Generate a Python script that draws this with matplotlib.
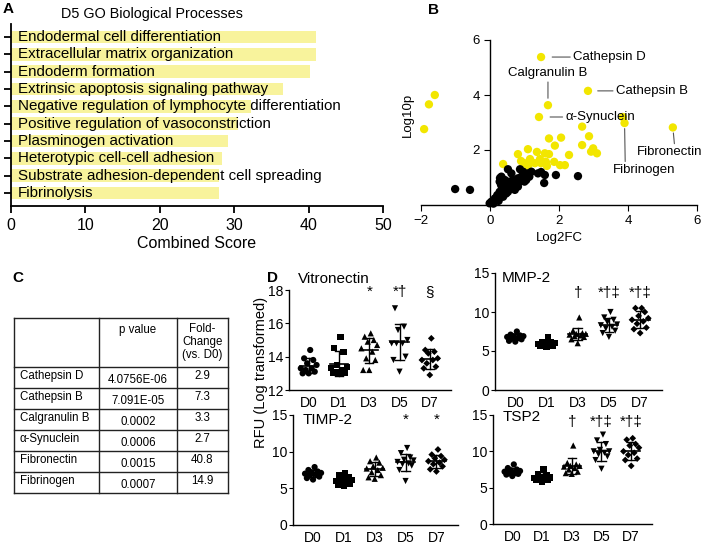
import numpy as np
import matplotlib.pyplot as plt

plt.rcParams['font.family'] = ['Liberation Sans', 'DejaVu Sans']

W, H = 709, 545


def px_rect(left, top, right, bottom):
    # axes rectangle from pixel edges of the reference
    return [left / W, 1 - bottom / H, (right - left) / W, (bottom - top) / H]


# ---------------- panel A data
go_terms = ['Endodermal cell differentiation',
            'Extracellular matrix organization',
            'Endoderm formation',
            'Extrinsic apoptosis signaling pathway',
            'Negative regulation of lymphocyte differentiation',
            'Positive regulation of vasoconstriction',
            'Plasminogen activation',
            'Heterotypic cell-cell adhesion',
            'Substrate adhesion-dependent cell spreading',
            'Fibrinolysis']
go_scores = [41.0, 41.0, 40.2, 36.5, 32.2, 30.5, 29.2, 28.4, 28.0, 27.9]

# ---------------- panel B data
yellow_fc = [-1.91, -1.77, -1.60, 1.48, 2.84, 1.68, 1.42, 3.90, 3.85, 5.30,
             2.67, 2.87, 2.67, 2.99, 2.93, 3.10, 1.71, 2.06, 1.88, 2.29,
             1.10, 1.36, 0.81, 1.59, 1.71, 0.90, 1.16, 1.45, 1.30, 1.62,
             1.86, 2.03, 2.17, 1.65, 1.10, 0.38, 1.00, 1.48]
yellow_logp = [2.76, 3.66, 4.00, 5.38, 4.15, 3.63, 3.20, 2.98, 3.20, 2.82,
               2.85, 2.50, 2.18, 2.06, 1.94, 1.88, 2.42, 2.45, 2.16, 1.82,
               2.03, 1.93, 1.85, 1.88, 1.85, 1.60, 1.67, 1.67, 1.52, 1.57,
               1.57, 1.45, 1.45, 1.42, 1.42, 1.49, 1.52, 1.52]
black_fc = [-1.01, -0.58, 1.91, 2.55, 1.57, 0.52, 0.87, 1.59, 1.48, -0.01,
            0.04, 0.14, 0.18, 0.21, 0.28, 0.35, 0.43, 0.47, 0.57, 0.67,
            0.72, 0.81, 0.91, 1.00, 1.10, 1.20, 0.33, 0.43, 0.28, 0.62,
            0.76, 0.86, 1.05, 0.52, 0.38, 0.47, 0.62, 0.96, 1.39, 0.57,
            0.72, 0.43, 0.81, 1.00, 1.14, 0.29, 0.32, 0.10, 0.25]
black_logp = [0.58, 0.55, 1.09, 1.05, 0.80, 1.30, 1.30, 1.09, 1.20, 0.06,
              0.12, 0.24, 0.18, 0.36, 0.48, 0.61, 0.69, 0.81, 0.85, 0.91,
              0.79, 0.97, 1.03, 1.09, 1.15, 1.21, 1.03, 0.91, 0.85, 0.73,
              0.73, 0.85, 0.91, 0.48, 0.30, 0.42, 1.15, 1.21, 1.15, 0.61,
              0.55, 0.55, 0.67, 0.85, 1.03, 0.98, 0.73, 0.05, 0.15]
named = ['Cathepsin D', 'Calgranulin B', 'Cathepsin B', 'α-Synuclein',
         'Fibrinogen', 'Fibronectin']
named_fc = [1.48, 1.68, 2.84, 1.42, 3.90, 5.30]
named_logp = [5.38, 3.63, 4.15, 3.20, 2.98, 2.82]

# ---------------- panel C data
tbl_proteins = ['Cathepsin D', 'Cathepsin B', 'Calgranulin B', 'α-Synuclein',
                'Fibronectin', 'Fibrinogen']
tbl_pvalues = ['4.0756E-06', '7.091E-05', '0.0002', '0.0006', '0.0015', '0.0007']
tbl_fold = ['2.9', '7.3', '3.3', '2.7', '40.8', '14.9']

# ---------------- panel D data
days = ['D0', 'D1', 'D3', 'D5', 'D7']
vitronectin = [[14.4, 13.9, 13.8, 13.5, 13.3, 13.2, 13.1, 13.0, 13.0, 13.3, 13.6],
               [15.2, 14.5, 14.3, 13.5, 13.4, 13.3, 13.2, 13.0, 13.0, 12.95, 13.1],
               [15.4, 15.2, 15.0, 14.9, 14.7, 14.5, 14.3, 13.9, 13.8, 13.2, 13.2],
               [16.9, 15.8, 15.6, 15.0, 14.8, 14.8, 14.8, 14.0, 13.8, 13.1],
               [15.1, 14.4, 14.3, 14.2, 13.9, 13.8, 13.8, 13.6, 13.4, 13.3, 12.9]]
mmp2 = [[7.5, 7.1, 7.0, 6.9, 6.8, 6.7, 6.6, 6.5, 6.3, 6.2, 6.9],
        [6.8, 6.2, 6.1, 6.0, 5.9, 5.8, 5.7, 5.6, 5.5, 5.9, 6.0],
        [9.3, 7.6, 7.3, 7.2, 7.1, 7.0, 6.9, 6.8, 6.5, 6.0, 7.2],
        [10.0, 9.3, 9.0, 8.7, 8.4, 8.3, 8.1, 7.9, 7.6, 7.3, 6.8],
        [10.5, 10.5, 10.0, 9.5, 9.2, 9.0, 8.8, 8.5, 8.0, 7.8, 7.3]]
timp2 = [[7.9, 7.5, 7.3, 7.1, 7.0, 6.9, 6.8, 6.6, 6.4, 6.2, 7.2],
         [7.1, 6.8, 6.6, 6.3, 6.1, 6.0, 5.8, 5.6, 5.4, 5.3, 5.9],
         [9.2, 8.7, 8.5, 8.0, 7.8, 7.5, 7.2, 6.8, 6.5, 6.3, 7.7],
         [10.5, 9.8, 9.2, 8.9, 8.6, 8.4, 8.3, 8.1, 7.5, 6.0, 8.8],
         [10.3, 9.6, 9.4, 9.1, 8.9, 8.7, 8.5, 8.3, 8.0, 7.6, 7.3]]
tsp2 = [[8.2, 7.7, 7.5, 7.3, 7.2, 7.1, 7.0, 6.9, 6.8, 6.6, 7.4],
        [7.5, 6.9, 6.7, 6.5, 6.4, 6.3, 6.2, 6.1, 6.0, 5.8, 6.3],
        [10.8, 8.4, 8.2, 8.0, 7.9, 7.7, 7.5, 7.2, 7.0, 6.9, 8.0],
        [12.3, 11.5, 11.0, 10.2, 10.0, 9.8, 9.6, 9.3, 8.8, 7.6, 10.0],
        [11.8, 11.6, 11.0, 10.8, 10.5, 10.0, 9.8, 9.5, 9.0, 8.8, 8.0]]
vitro_sig = ['', '', '*', '*†', '§']
mmp2_sig = ['', '', '†', '*†‡', '*†‡']
timp2_sig = ['', '', '', '*', '*']
tsp2_sig = ['', '', '†', '*†‡', '*†‡']

fig = plt.figure(figsize=(W / 100, H / 100), dpi=100)

# ================= A
axA = fig.add_axes(px_rect(11, 24, 383, 206))
ypos = np.arange(len(go_terms))
axA.barh(ypos, go_scores, height=0.72, color='#f8f39c', zorder=1)
for y, term in zip(ypos, go_terms):
    axA.text(0.9, y, term, va='center', ha='left', fontsize=10.9, zorder=2)
axA.set_ylim(9.75, -0.75)
axA.set_xlim(0, 50)
axA.set_xticks([0, 10, 20, 30, 40, 50])
axA.set_yticks(ypos)
axA.set_yticklabels([])
axA.tick_params(axis='both', width=1.3, length=5, labelsize=11.5, direction='out')
for s in ['top', 'right']:
    axA.spines[s].set_visible(False)
for s in ['left', 'bottom']:
    axA.spines[s].set_linewidth(1.3)
axA.set_xlabel('Combined Score', fontsize=11.5, labelpad=2)
axA.set_title('D5 GO Biological Processes', fontsize=10.4, x=0.38, pad=4)
fig.text(3 / W, 1 - 9 / H, 'A', fontsize=11, fontweight='bold', va='center')

# ================= B
axB = fig.add_axes(px_rect(421, 40, 697, 205))
axB.scatter(yellow_fc, yellow_logp, s=36, color='#f2e600', edgecolors='none',
            zorder=3, clip_on=False)
axB.scatter(black_fc, black_logp, s=36, color='black', edgecolors='none',
            zorder=4, clip_on=False)
axB.set_xlim(-2, 6)
axB.set_ylim(0, 6)
axB.spines['left'].set_position(('data', 0))
for s in ['top', 'right']:
    axB.spines[s].set_visible(False)
for s in ['left', 'bottom']:
    axB.spines[s].set_linewidth(1.0)
axB.set_xticks([-2, 0, 2, 4, 6])
axB.set_yticks([2, 4, 6])
axB.tick_params(axis='both', labelsize=9.5, length=4)
axB.text(-0.047, 0.545, 'Log10p', rotation=90, transform=axB.transAxes,
         ha='center', va='center', fontsize=9.5)
axB.set_xlabel('Log2FC', fontsize=9.5, labelpad=3)

label_offsets = {'Cathepsin D': ((23, 0), 'left', 'center', (0, 0.5), 8),
                 'Calgranulin B': ((0, 23), 'center', 'center', (0.5, 0), 5),
                 'Cathepsin B': ((20, 0), 'left', 'center', (0, 0.5), 7),
                 'α-Synuclein': ((19, 0), 'left', 'center', (0, 0.5), 8),
                 'Fibrinogen': ((14, -34), 'center', 'center', (0.2, 1), 4),
                 'Fibronectin': ((-2, -18), 'center', 'center', (0.57, 1), 4)}
for name, fx, fy in zip(named, named_fc, named_logp):
    off, ha, va, rel, shr = label_offsets[name]
    axB.annotate(name, xy=(fx, fy), xytext=off, textcoords='offset points',
                 ha=ha, va=va, fontsize=9.5,
                 arrowprops=dict(arrowstyle='-', color='#555555', lw=0.8,
                                 relpos=rel, shrinkA=0, shrinkB=shr))
fig.text(428 / W, 1 - 10 / H, 'B', fontsize=11, fontweight='bold', va='center')

# ================= C
axC = fig.add_axes(px_rect(14, 318, 228, 493))
axC.set_xlim(0, 214)
axC.set_ylim(175, 0)
axC.axis('off')
col_edges = [0, 85, 163, 214]
row_edges = [0, 49] + [49 + 21 * (i + 1) for i in range(len(tbl_proteins))]
for x in col_edges:
    axC.plot([x, x], [row_edges[0], row_edges[-1]], color='#222222', lw=1.0,
             clip_on=False)
for y in row_edges:
    axC.plot([col_edges[0], col_edges[-1]], [y, y], color='#222222', lw=1.0,
             clip_on=False)
axC.text((col_edges[1] + col_edges[2]) / 2, 6, 'p value', ha='center', va='top',
         fontsize=8.3)
axC.text((col_edges[2] + col_edges[3]) / 2, 5, 'Fold-\nChange\n(vs. D0)',
         ha='center', va='top', fontsize=8.3, linespacing=1.1)
for i, (prot, pv, fc) in enumerate(zip(tbl_proteins, tbl_pvalues, tbl_fold)):
    top = row_edges[i + 1]
    axC.text(col_edges[0] + 6, top + 9, prot, ha='left', va='center', fontsize=8.3)
    axC.text((col_edges[1] + col_edges[2]) / 2, top + 13, pv, ha='center',
             va='center', fontsize=8.3)
    axC.text((col_edges[2] + col_edges[3]) / 2, top + 9, fc, ha='center',
             va='center', fontsize=8.3)
fig.text(12 / W, 1 - 278 / H, 'C', fontsize=11, fontweight='bold', va='center')

# ================= D
markers = ['o', 's', '^', 'v', 'D']
msizes = [20, 19, 20, 20, 12]
jitter = [0.0, -0.2, 0.2, -0.1, 0.1, -0.26, 0.26, -0.05, 0.15, -0.15, 0.05]


def dot_plot(ax, groups, sig, title, ylim, yticks, title_xy, sig_y):
    for i, vals in enumerate(groups):
        vals = np.sort(np.array(vals))
        xs = i + np.array(jitter[:len(vals)])
        ax.scatter(xs, vals, marker=markers[i], s=msizes[i], color='black',
                   edgecolors='none', zorder=3, clip_on=False)
        m = vals.mean()
        sd = vals.std(ddof=1)
        ax.plot([i - 0.3, i + 0.3], [m, m], color='black', lw=1.2, zorder=4)
        ax.plot([i, i], [m - sd, m + sd], color='black', lw=1.0, zorder=4)
        for e in (m - sd, m + sd):
            ax.plot([i - 0.14, i + 0.14], [e, e], color='black', lw=1.0, zorder=4)
        if sig[i]:
            ax.text(i, sig_y, sig[i], transform=ax.get_xaxis_transform(),
                    ha='center', va='center', fontsize=11)
    ax.set_xlim(-0.65, 4.7)
    ax.set_ylim(*ylim)
    ax.set_yticks(yticks)
    ax.set_xticks(range(len(days)))
    ax.set_xticklabels(days)
    ax.tick_params(axis='y', labelsize=10, length=3, pad=1)
    ax.tick_params(axis='x', labelsize=10, length=0, pad=4)
    for s in ['top', 'right']:
        ax.spines[s].set_visible(False)
    for s in ['left', 'bottom']:
        ax.spines[s].set_linewidth(1.0)
    ax.text(title_xy[0], title_xy[1], title, transform=ax.transAxes,
            ha='left', va='center', fontsize=11)


axV = fig.add_axes(px_rect(289, 290, 451, 390))
dot_plot(axV, vitronectin, vitro_sig, 'Vitronectin', (12, 18), [12, 14, 16, 18],
         (0.055, 1.11), 0.98)
axM = fig.add_axes(px_rect(495, 273, 662, 390))
dot_plot(axM, mmp2, mmp2_sig, 'MMP-2', (0, 15), [0, 5, 10, 15],
         (0.04, 0.957), 0.83)
axT = fig.add_axes(px_rect(293, 415, 458, 525))
dot_plot(axT, timp2, timp2_sig, 'TIMP-2', (0, 15), [0, 5, 10, 15],
         (0.06, 0.955), 0.96)
axS = fig.add_axes(px_rect(493, 415, 652, 524))
dot_plot(axS, tsp2, tsp2_sig, 'TSP2', (0, 15), [0, 5, 10, 15],
         (0.06, 0.98), 0.94)

fig.text(261 / W, 1 - 372 / H, 'RFU (Log transformed)', rotation=90,
         ha='center', va='center', fontsize=10.5)
fig.text(267 / W, 1 - 278 / H, 'D', fontsize=11, fontweight='bold', va='center')

fig.savefig('out.png', dpi=100)
